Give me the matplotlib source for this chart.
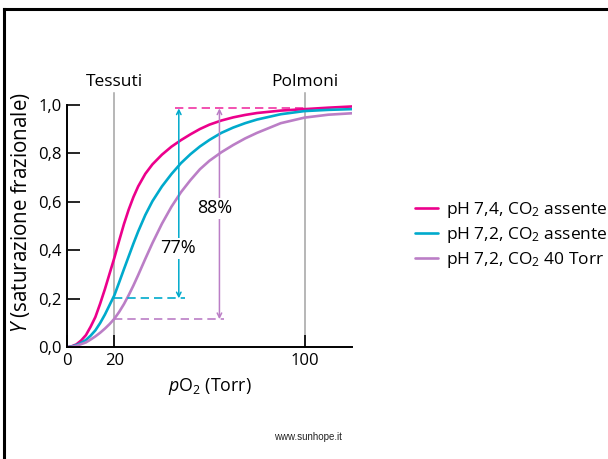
import matplotlib
matplotlib.use('Agg')
import matplotlib.pyplot as plt
from matplotlib.lines import Line2D

plt.rcParams['font.family'] = ['Open Sans', 'DejaVu Sans']
plt.rcParams['mathtext.fontset'] = 'custom'
plt.rcParams['mathtext.rm'] = 'Open Sans'
plt.rcParams['mathtext.it'] = 'Open Sans:italic'

# curve readings (pO2 in Torr, fractional saturation Y)
po2 = [0, 2, 4, 6, 8, 10, 12, 14, 16, 18, 20, 22, 24, 26, 28, 30, 33, 36, 40, 44,
       48, 52, 56, 60, 65, 70, 75, 80, 90, 100, 110, 120]
y_ph74 = [0.0, 0.004, 0.012, 0.028, 0.05, 0.085, 0.125, 0.18, 0.24, 0.305, 0.37,
          0.44, 0.508, 0.568, 0.62, 0.664, 0.716, 0.755, 0.795, 0.828, 0.855, 0.879,
          0.901, 0.919, 0.936, 0.949, 0.959, 0.967, 0.977, 0.983, 0.989, 0.994]
y_ph72 = [0.0, 0.003, 0.009, 0.018, 0.03, 0.048, 0.07, 0.1, 0.135, 0.175, 0.215,
          0.268, 0.322, 0.375, 0.428, 0.478, 0.546, 0.603, 0.664, 0.715, 0.76, 0.797,
          0.829, 0.856, 0.885, 0.907, 0.925, 0.94, 0.962, 0.975, 0.98, 0.983]
y_co2 = [0.0, 0.002, 0.006, 0.013, 0.02, 0.032, 0.045, 0.06, 0.077, 0.096, 0.118,
         0.146, 0.178, 0.215, 0.255, 0.298, 0.365, 0.43, 0.51, 0.58, 0.64, 0.69,
         0.735, 0.77, 0.805, 0.835, 0.862, 0.885, 0.925, 0.948, 0.96, 0.966]

labels = [r'pH 7,4, CO$_2$ assente', r'pH 7,2, CO$_2$ assente', r'pH 7,2, CO$_2$ 40 Torr']
colors = ['#ec008c', '#00aacc', '#bb7ec6']

yticks = [0, 0.2, 0.4, 0.6, 0.8, 1.0]
ytick_labels = ['0,0', '0,2', '0,4', '0,6', '0,8', '1,0']
xticks = [0, 20, 100]

# markers: tissue / lung pO2, saturation levels and the unloaded fractions
tessuti_x, polmoni_x = 20, 100
y_top = 0.986
y_low72, y_lowco2 = 0.202, 0.116
arrow77_x, arrow88_x = 47.1, 64.2

fig = plt.figure(figsize=(6.08, 4.59), dpi=100)
ax = fig.add_axes([0.110, 0.2434, 0.469, 0.5278])

for yy, c, lab in zip([y_ph74, y_ph72, y_co2], colors, labels):
    ax.plot(po2, yy, color=c, lw=1.9, label=lab, solid_capstyle='round',
            solid_joinstyle='round')

# vertical reference lines
for xv, name in [(tessuti_x, 'Tessuti'), (polmoni_x, 'Polmoni')]:
    ax.plot([xv, xv], [0, 1.05], color='#a3a3a3', lw=1.1, clip_on=False, zorder=1)
    ax.text(xv, 1.095, name, ha='center', va='center', fontsize=12.5)

# dashed guides
ax.plot([45.4, 100], [y_top, y_top], color=colors[0], lw=1.2, ls=(0, (5, 3)), alpha=0.8)
ax.plot([tessuti_x, 49.5], [y_low72, y_low72], color=colors[1], lw=1.2, ls=(0, (5, 3)))
ax.plot([tessuti_x, 66.2], [y_lowco2, y_lowco2], color=colors[2], lw=1.2, ls=(0, (5, 3)))

# double arrows
ax.annotate('', xy=(arrow77_x, y_low72), xytext=(arrow77_x, y_top),
            arrowprops=dict(arrowstyle='<->', color=colors[1], lw=1.1,
                            mutation_scale=8, shrinkA=0, shrinkB=0))
ax.annotate('', xy=(arrow88_x, y_lowco2), xytext=(arrow88_x, y_top),
            arrowprops=dict(arrowstyle='<->', color=colors[2], lw=1.1,
                            mutation_scale=8, shrinkA=0, shrinkB=0))
ax.text(46.7, 0.409, '77%', ha='center', va='center', fontsize=13,
        bbox=dict(facecolor='white', edgecolor='none', pad=1))
ax.text(62.1, 0.574, '88%', ha='center', va='center', fontsize=13,
        bbox=dict(facecolor='white', edgecolor='none', pad=1))

ax.set_xlim(0, 120)
ax.set_ylim(0, 1.0)
ax.set_xticks(xticks)
ax.set_yticks(yticks)
ax.set_yticklabels(ytick_labels)
ax.tick_params(direction='in', length=9, width=1.2, labelsize=12, pad=4)
for s in ['top', 'right']:
    ax.spines[s].set_visible(False)
for s in ['left', 'bottom']:
    ax.spines[s].set_linewidth(1.4)

ax.set_xlabel(r'$p$O$_2$ (Torr)', fontsize=12.8, labelpad=5)
ax.set_ylabel(r'$Y$ (saturazione frazionale)', fontsize=14.8)
ax.yaxis.set_label_coords(-0.122, 0.554)

fig.legend(loc='upper left', bbox_to_anchor=(0.682, 0.565), frameon=False,
           fontsize=12.5, handlelength=1.35, handletextpad=0.45, labelspacing=0.3,
           borderaxespad=0, borderpad=0)

fig.text(0.507, 0.048, 'www.sunhope.it', ha='center', va='center', fontsize=7,
         family='Liberation Sans', color='#222222')

# page frame (top and left edges)
fig.add_artist(Line2D([0.006, 1.0], [0.980, 0.980], color='black', lw=2.2,
                      transform=fig.transFigure))
fig.add_artist(Line2D([0.006, 0.006], [0.0, 0.980], color='black', lw=2.2,
                      transform=fig.transFigure))

fig.savefig('out.png', dpi=100)
